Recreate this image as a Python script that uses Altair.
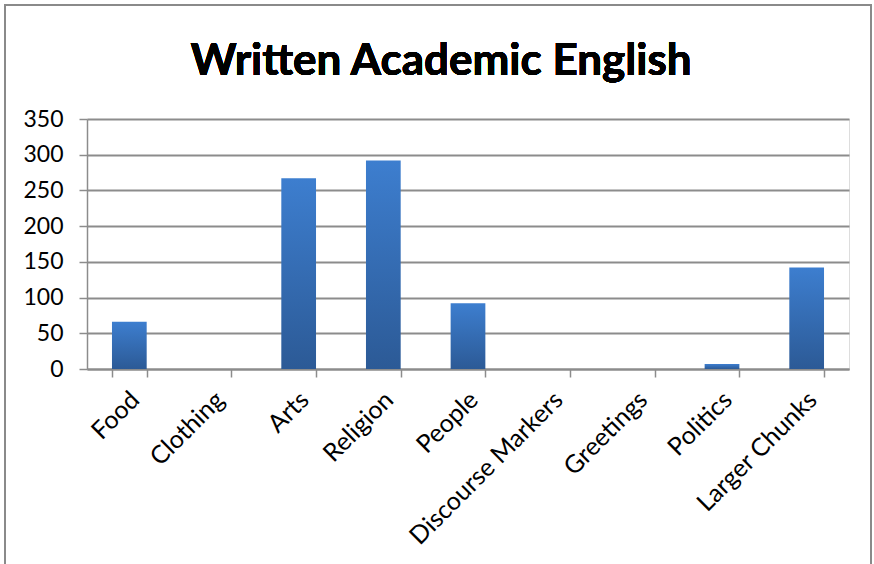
import altair as alt
import pandas as pd

categories = ["Food", "Clothing", "Arts", "Religion", "People",
              "Discourse Markers", "Greetings", "Politics", "Larger Chunks"]
values = [66, 0, 267, 292, 92, 0, 0, 7, 142]
y_ticks = [0, 50, 100, 150, 200, 250, 300, 350]
title_text = "Written Academic English"

df = pd.DataFrame({"category": categories, "value": values})

FONT = "Lato"
GRID = "#8c8c8c"

bars = alt.Chart(df).mark_bar(
    color=alt.Gradient(
        gradient="linear",
        stops=[alt.GradientStop(color="#3d7ecf", offset=0),
               alt.GradientStop(color="#2c5a96", offset=1)],
        x1=0, x2=0, y1=0, y2=1,
    )
).encode(
    x=alt.X("category:N", sort=categories, title=None,
            scale=alt.Scale(paddingInner=0.59, paddingOuter=0.295),
            axis=alt.Axis(labelAngle=-45, labelFont=FONT, labelFontSize=25,
                          labelColor="black", tickBand="extent", tickSize=8,
                          tickColor=GRID, tickWidth=1.5, domainColor=GRID,
                          domainWidth=2, labelPadding=10, labelOffset=-3,
                          labelLimit=500, grid=False)),
    y=alt.Y("value:Q", title=None,
            scale=alt.Scale(domain=[0, 350], nice=False),
            axis=alt.Axis(values=y_ticks, labelFont=FONT, labelFontSize=23,
                          labelColor="black", tickSize=8, tickColor=GRID,
                          tickWidth=1.5, domainColor=GRID, domainWidth=1.5,
                          gridColor=GRID, gridWidth=1.8, labelPadding=16)),
)

title = alt.Chart(df).mark_text(
    text=title_text, font=FONT, fontSize=44, fontWeight="bold",
    color="black", align="center", baseline="alphabetic",
).encode(x=alt.value(354), y=alt.value(-44))

frame = alt.Chart(df).mark_rect(
    fill=None, stroke="#8a8a8a", strokeWidth=1.5, clip=False,
).encode(x=alt.value(-82), x2=alt.value(784), y=alt.value(-114), y2=alt.value(480))

chart = alt.layer(frame, bars, title).properties(
    width=762, height=250,
    autosize=alt.AutoSizeParams(type="none"),
    padding={"left": 87, "top": 119, "right": 25, "bottom": 195},
).configure_view(stroke=None).configure(background="white")

chart.save("out.html", embed_options={"renderer": "svg", "actions": False})
